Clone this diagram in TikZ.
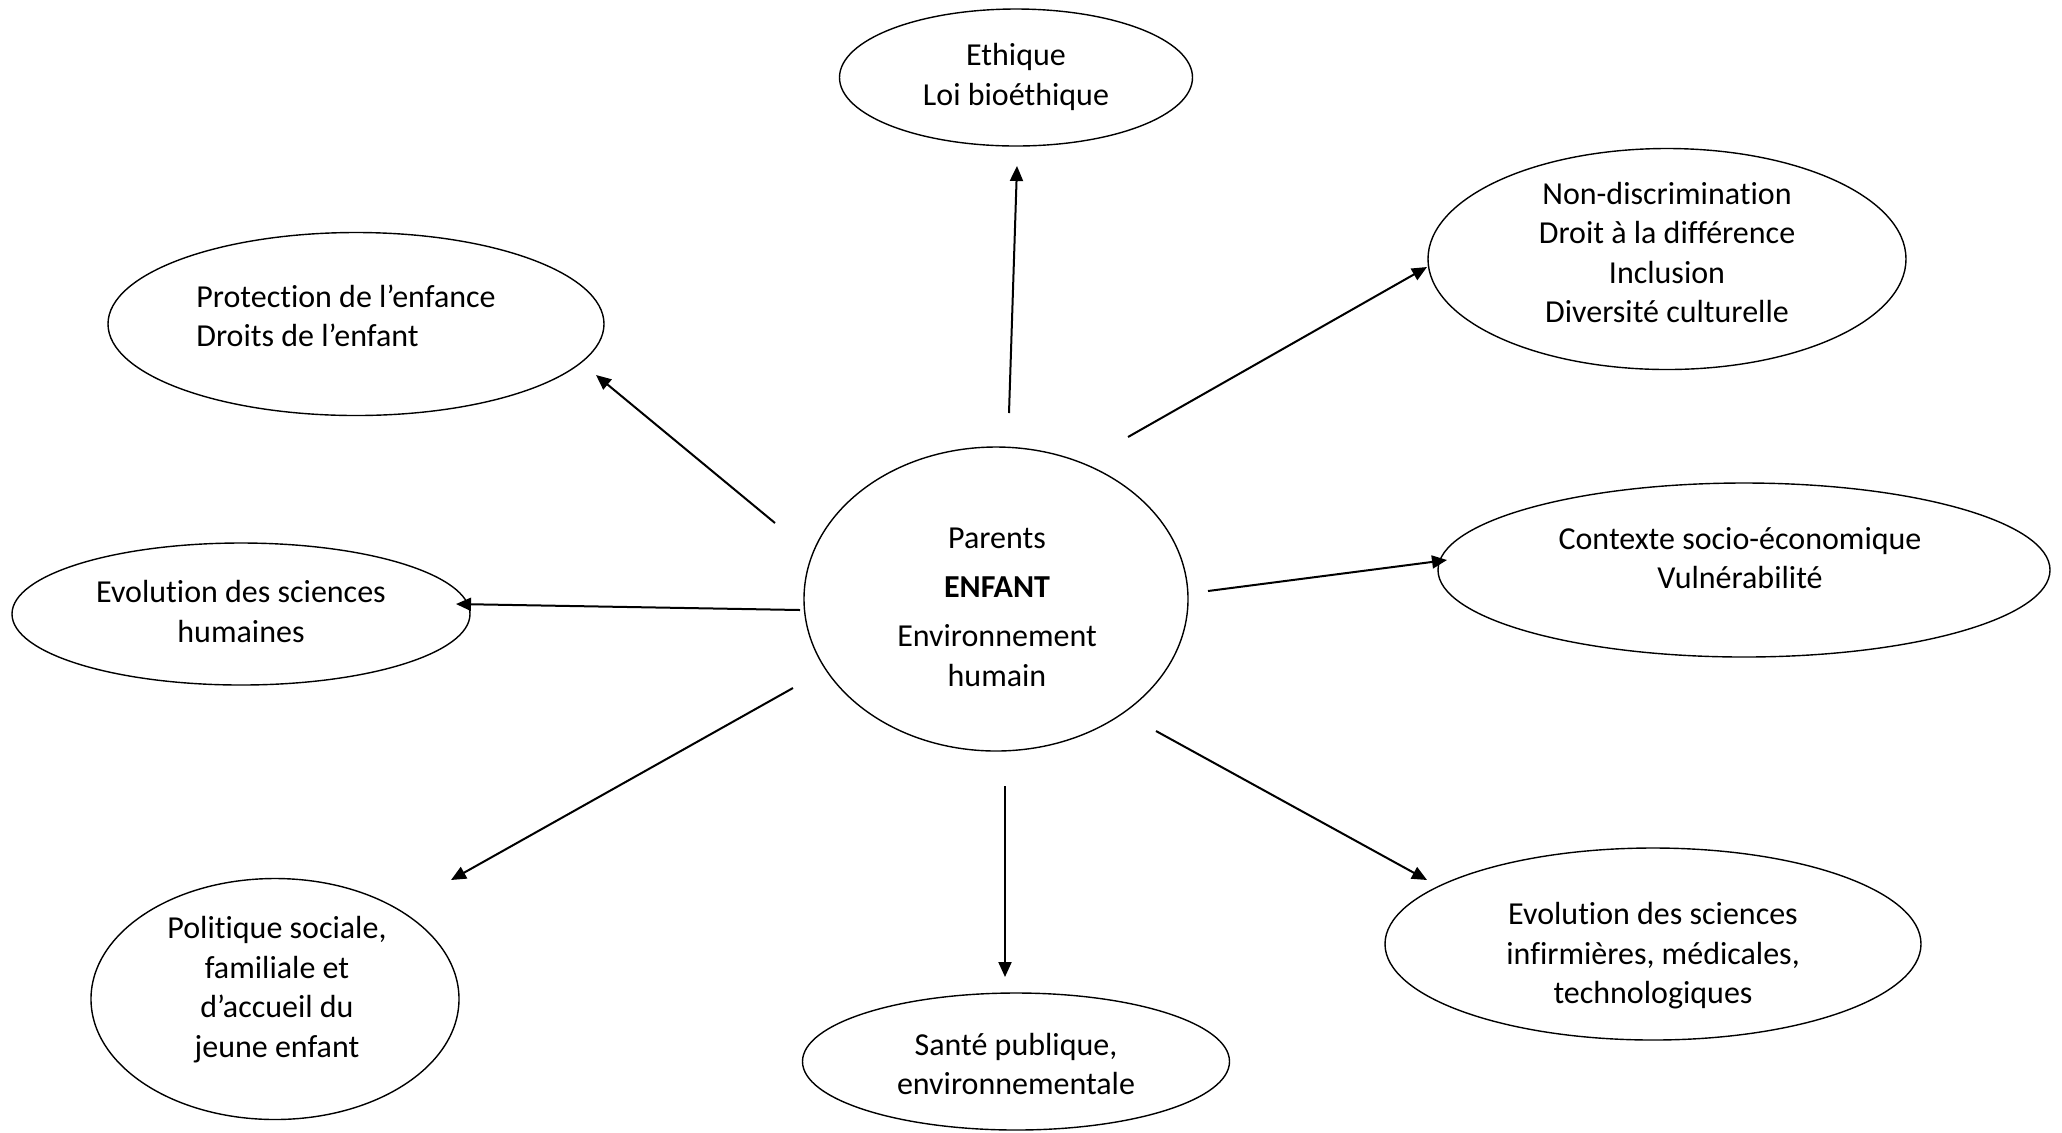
\documentclass[tikz,border=0pt]{standalone}
\usepackage{fontspec}
\setmainfont{Carlito}[Ligatures={NoCommon}]
\usetikzlibrary{shapes.geometric,arrows.meta}
\begin{document}
\begin{tikzpicture}[x=0.5pt,y=-0.5pt,
  bubble/.style={ellipse,draw,line width=0.7pt,inner sep=0pt},
  txt/.style={align=center,inner sep=0pt,font=\fontsize{16}{19.75}\selectfont},
  arr/.style={line width=1pt,-{Triangle[length=7.5pt,width=6.5pt]}}]
\useasboundingbox (0,0) rectangle (2062,1132);
% ellipses
\node[bubble,minimum width=176.5pt,minimum height=68.5pt] (eth) at (1016,77.5) {};
\node[bubble,minimum width=239pt,minimum height=110.5pt] (nd) at (1667,259) {};
\node[bubble,minimum width=248pt,minimum height=91.5pt] (prot) at (356,324) {};
\node[bubble,minimum width=192pt,minimum height=152pt] (c) at (996,599) {};
\node[bubble,minimum width=229pt,minimum height=71pt] (esh) at (241,614) {};
\node[bubble,minimum width=306pt,minimum height=87pt] (ctx) at (1744,570) {};
\node[bubble,minimum width=184pt,minimum height=120.5pt] (pol) at (275,999) {};
\node[bubble,minimum width=213.5pt,minimum height=68.5pt] (sp) at (1016,1061.5) {};
\node[bubble,minimum width=268pt,minimum height=96pt] (esi) at (1653,944) {};
% texts
\node[txt] (teth) at (1016,77) {Ethique\\Loi bioéthique};
\node[txt] (tnd) at (1667,252.5) {Non-discrimination\\Droit à la différence\\Inclusion\\Diversité culturelle};
\node[txt,align=left,anchor=west] (tprot) at (196,315.6) {Protection de l’enfance\\Droits de l’enfant};
\node[txt] (tc) at (997,607) {Parents\\[4.6pt]\textbf{ENFANT}\\[5pt]Environnement\\humain};
\node[txt] (tesh) at (241,611.5) {Evolution des sciences\\humaines};
\node[txt] (tctx) at (1740,558) {Contexte socio-économique\\Vulnérabilité};
\node[txt] (tpol) at (277,989.5) {Politique sociale,\\familiale et\\d’accueil du\\jeune enfant};
\node[txt] (tsp) at (1016,1064) {Santé publique,\\environnementale};
\node[txt] (tesi) at (1653,956) {Evolution des sciences\\infirmières, médicales,\\technologiques};
% arrow ends
\coordinate (s1) at (1009,413); \coordinate (h1) at (1017,166);
\coordinate (s2) at (1128,437); \coordinate (h2) at (1427,267);
\coordinate (s3) at (775,523);  \coordinate (h3) at (596,375);
\coordinate (s4) at (800,610);  \coordinate (h4) at (456,604);
\coordinate (s5) at (1208,591); \coordinate (h5) at (1447,560);
\coordinate (s6) at (793,688);  \coordinate (h6) at (451,880);
\coordinate (s7) at (1005,786); \coordinate (h7) at (1005,977);
\coordinate (s8) at (1156,731); \coordinate (h8) at (1427,880);
\draw[arr] (s1) -- (h1);
\draw[arr] (s2) -- (h2);
\draw[arr] (s3) -- (h3);
\draw[arr] (s4) -- (h4);
\draw[arr] (s5) -- (h5);
\draw[arr] (s6) -- (h6);
\draw[arr] (s7) -- (h7);
\draw[arr] (s8) -- (h8);
\end{tikzpicture}
\end{document}
